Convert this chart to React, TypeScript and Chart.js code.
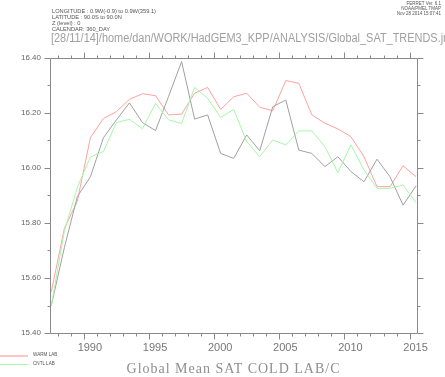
import React, { useEffect, useRef } from "react";
import { Chart, registerables } from "chart.js";

Chart.register(...registerables);

const years = [
  1987.5, 1988.5, 1989.5, 1990.5, 1991.5, 1992.5, 1993.5, 1994.5, 1995.5, 1996.5,
  1997.5, 1998.5, 1999.5, 2000.5, 2001.5, 2002.5, 2003.5, 2004.5, 2005.5, 2006.5,
  2007.5, 2008.5, 2009.5, 2010.5, 2011.5, 2012.5, 2013.5, 2014.5, 2015.5,
];

const warmLab = [
  15.55, 15.78, 15.88, 16.11, 16.18, 16.205, 16.25, 16.27, 16.263, 16.193,
  16.196, 16.272, 16.293, 16.213, 16.259, 16.272, 16.221, 16.208, 16.318, 16.308,
  16.193, 16.163, 16.142, 16.114, 16.041, 15.932, 15.932, 16.008, 15.968,
];

const cntlLab = [
  15.5, 15.77, 15.93, 16.04, 16.06, 16.165, 16.177, 16.143, 16.235, 16.175,
  16.162, 16.293, 16.253, 16.184, 16.213, 16.096, 16.041, 16.102, 16.084, 16.135,
  16.135, 16.078, 15.983, 16.084, 15.993, 15.926, 15.926, 15.938, 15.874,
];

const coldLab = [
  15.5, 15.71, 15.896, 15.968, 16.11, 16.175, 16.237, 16.165, 16.136, 16.26,
  16.387, 16.178, 16.193, 16.053, 16.035, 16.12, 16.063, 16.223, 16.247, 16.065,
  16.053, 16.005, 16.041, 15.987, 15.95, 16.032, 15.968, 15.865, 15.935,
];

const xLabelYears = [1990, 1995, 2000, 2005, 2010, 2015];
const yLabelValues = [15.4, 15.6, 15.8, 16.0, 16.2, 16.4];
const xMin = 1987.4;
const xMax = 2015.57;
const yMin = 15.4;
const yMax = 16.4;

const AXIS_COLOR = "#8a8a8a";
const RED = "#ffa0a0";
const GREEN = "#a6f7a6";
const GRAY = "#a0a0a0";
const LEGEND_RED = "#ff8c8c";

const framePlugin = {
  id: "ferretFrame",
  afterDraw(chart: any) {
    const { ctx, chartArea } = chart;
    const xs = chart.scales.x;
    const ys = chart.scales.y;
    const l = Math.round(chartArea.left) + 0.5;
    const r = Math.round(chartArea.right) + 0.5;
    const t = Math.round(chartArea.top) + 0.5;
    const b = Math.round(chartArea.bottom) + 0.5;
    ctx.save();
    ctx.strokeStyle = AXIS_COLOR;
    ctx.lineWidth = 1;
    ctx.beginPath();
    ctx.rect(l, t, r - l, b - t);
    for (let yr = Math.ceil(xMin); yr <= Math.floor(xMax); yr++) {
      const px = Math.round(xs.getPixelForValue(yr)) + 0.5;
      const len = yr % 5 === 0 ? 6 : 3;
      ctx.moveTo(px, b);
      ctx.lineTo(px, b + len);
      ctx.moveTo(px, t);
      ctx.lineTo(px, t - len);
    }
    for (let i = 0; i <= 10; i++) {
      const v = yMin + i * 0.1;
      const py = Math.round(ys.getPixelForValue(v)) + 0.5;
      const len = i % 2 === 0 ? 6 : 3;
      ctx.moveTo(l, py);
      ctx.lineTo(l - len, py);
      ctx.moveTo(r, py);
      ctx.lineTo(r + len, py);
    }
    ctx.stroke();
    ctx.lineWidth = 1;
    ctx.strokeStyle = LEGEND_RED;
    ctx.beginPath();
    ctx.moveTo(0, 356);
    ctx.lineTo(28, 356);
    ctx.stroke();
    ctx.strokeStyle = GREEN;
    ctx.beginPath();
    ctx.moveTo(0, 364.5);
    ctx.lineTo(28, 364.5);
    ctx.stroke();
    ctx.restore();
  },
};

export default function App() {
  const canvasRef = useRef<HTMLCanvasElement | null>(null);

  useEffect(() => {
    const canvas = canvasRef.current;
    if (!canvas) return;
    const mk = (vals: number[]) => years.map((x, i) => ({ x, y: vals[i] }));
    const chart = new Chart(canvas, {
      type: "line",
      data: {
        datasets: [
          { label: "CNTL LAB", data: mk(cntlLab), borderColor: GREEN, borderWidth: 1, pointRadius: 0, tension: 0 },
          { label: "COLD LAB", data: mk(coldLab), borderColor: GRAY, borderWidth: 1, pointRadius: 0, tension: 0 },
          { label: "WARM LAB", data: mk(warmLab), borderColor: RED, borderWidth: 1, pointRadius: 0, tension: 0 },
        ],
      },
      options: {
        responsive: false,
        animation: false,
        events: [],
        layout: { padding: { top: 58, right: 28, left: 0, bottom: 0 } },
        plugins: { legend: { display: false }, tooltip: { enabled: false } },
        scales: {
          x: {
            type: "linear",
            min: xMin,
            max: xMax,
            grid: { display: false, drawTicks: false, tickLength: 0 },
            border: { display: false },
            afterBuildTicks: (scale: any) => {
              scale.ticks = xLabelYears.map((v) => ({ value: v }));
            },
            afterFit: (scale: any) => {
              scale.height = 44;
            },
            ticks: {
              autoSkip: false,
              maxRotation: 0,
              padding: 8,
              labelOffset: 6,
              color: "#777",
              font: { family: "Liberation Sans", size: 11 },
              callback: (v: any) => String(v),
            },
          },
          y: {
            type: "linear",
            min: yMin,
            max: yMax,
            grid: { display: false, drawTicks: false, tickLength: 0 },
            border: { display: false },
            afterBuildTicks: (scale: any) => {
              scale.ticks = yLabelValues.map((v) => ({ value: v }));
            },
            afterFit: (scale: any) => {
              scale.width = 50;
            },
            ticks: {
              autoSkip: false,
              padding: 9,
              color: "#666",
              font: { family: "Liberation Sans", size: 8 },
              callback: (v: any) => Number(v).toFixed(2),
            },
          },
        },
      },
      plugins: [framePlugin],
    } as any);
    return () => chart.destroy();
  }, []);

  const tiny: React.CSSProperties = {
    position: "absolute",
    fontFamily: "Liberation Sans, sans-serif",
    color: "#555",
    whiteSpace: "nowrap",
    lineHeight: 1,
  };

  return (
    <div
      style={{
        position: "absolute",
        left: 0,
        top: 0,
        width: 445,
        height: 377,
        overflow: "hidden",
        background: "#fff",
      }}
    >
      <canvas ref={canvasRef} width={445} height={377} style={{ position: "absolute", left: 0, top: 0 }} />
      <div style={{ ...tiny, left: 52, top: 8, fontSize: 5.7, lineHeight: "6.1px" }}>
        <div>LONGITUDE : 0.9W(-0.9) to 0.9W(359.1)</div>
        <div>LATITUDE : 90.0S to 90.0N</div>
        <div>Z (level) : 0</div>
        <div>CALENDAR: 360_DAY</div>
      </div>
      <div style={{ ...tiny, right: 4, top: 1, fontSize: 4.5, lineHeight: "5px", textAlign: "right" }}>
        <div>FERRET Ver. 6.1</div>
        <div>NOAA/PMEL TMAP</div>
        <div>Nov 28 2014 15:07:41</div>
      </div>
      <div
        style={{
          ...tiny,
          left: 51,
          top: 32,
          fontSize: 12.5,
          color: "#a0a0a0",
          transform: "scaleX(0.875)",
          transformOrigin: "0 0",
        }}
      >
        [28/11/14]/home/dan/WORK/HadGEM3_KPP/ANALYSIS/Global_SAT_TRENDS.jnl
      </div>
      <div style={{ ...tiny, left: 33, top: 353, fontSize: 4.6 }}>WARM LAB</div>
      <div style={{ ...tiny, left: 33, top: 361.5, fontSize: 4.6 }}>CNTL LAB</div>
      <div
        style={{
          ...tiny,
          left: 100,
          width: 267,
          top: 362,
          fontSize: 14,
          textAlign: "center",
          fontFamily: "Liberation Serif, serif",
          letterSpacing: 1,
          color: "#8f8f8f",
        }}
      >
        Global Mean SAT COLD LAB/C
      </div>
    </div>
  );
}
